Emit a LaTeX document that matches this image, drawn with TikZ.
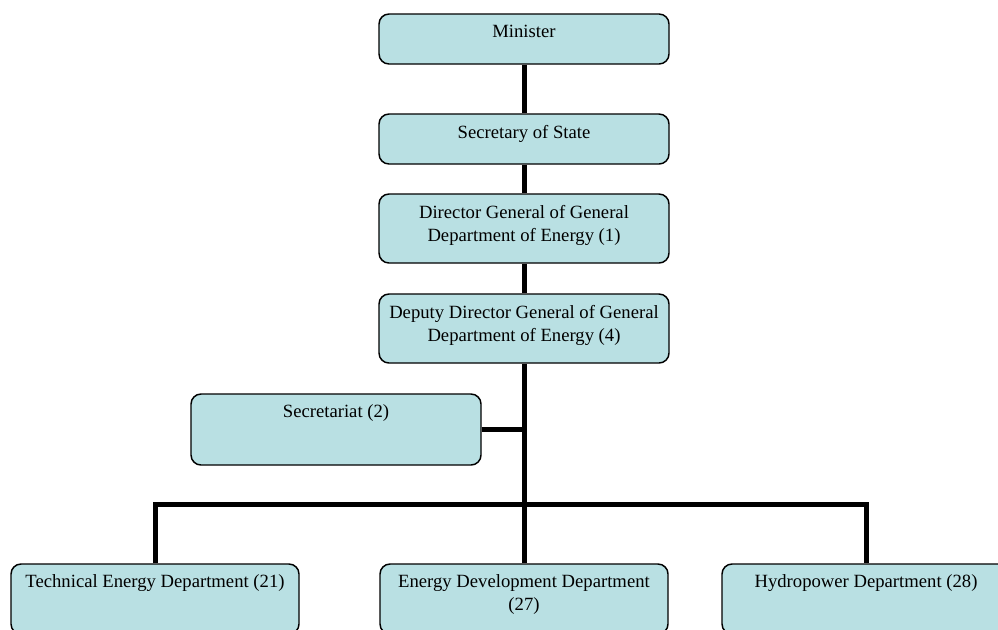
\documentclass[tikz,border=0pt]{standalone}
\usepackage{fontspec}
\setmainfont{Liberation Serif}
\begin{document}
\begin{tikzpicture}[x=0.75pt,y=-0.75pt,
  box/.style={draw=black, line width=1.1pt, fill=boxfill, rounded corners=7.5pt,
    minimum width=217.5pt, inner sep=0pt},
  lbl/.style={anchor=north, inner sep=0pt, align=center,
    font=\fontsize{14pt}{17.25pt}\selectfont},
  link/.style={line width=3.75pt, line join=miter}]
\definecolor{boxfill}{RGB}{185,224,227}
\useasboundingbox (0,0) rectangle (998,629);
\clip (0,0) rectangle (998,629);

% boxes of the chart
\node[box, minimum height=37.5pt] (min)  at (524,39)    {};
\node[box, minimum height=37.5pt] (sec)  at (524,139)   {};
\node[box, minimum height=51.75pt] (dg)  at (524,228.5) {};
\node[box, minimum height=51.75pt] (ddg) at (524,328.5) {};
\node[box, minimum height=53.25pt] (secr) at (336,429.5) {};
\node[box, minimum width=216pt, minimum height=52.5pt] (ted) at (155,599) {};
\node[box, minimum width=216pt, minimum height=52.5pt] (edd) at (524,599) {};
\node[box, minimum width=216pt, minimum height=52.5pt] (hyd) at (866,599) {};

% labels, set near the top of each box
\node[lbl] (minT)  at ([yshift=-8.5pt]min.north)  {Minister};
\node[lbl] (secT)  at ([yshift=-8.5pt]sec.north)  {Secretary of State};
\node[lbl] (dgT)   at ([yshift=-8.5pt]dg.north)   {Director General of General\\Department of Energy (1)};
\node[lbl] (ddgT)  at ([yshift=-8.5pt]ddg.north)  {Deputy Director General of General\\Department of Energy (4)};
\node[lbl] (secrT) at ([yshift=-8.5pt]secr.north) {Secretariat (2)};
\node[lbl] (tedT)  at ([yshift=-8.5pt]ted.north)  {Technical Energy Department (21)};
\node[lbl] (eddT)  at ([yshift=-8.5pt]edd.north)  {Energy Development Department\\(27)};
\node[lbl] (hydT)  at ([yshift=-8.5pt]hyd.north)  {Hydropower Department (28)};

% connectors
\coordinate (bar) at (524,504);
\draw[link] (min.south) -- (sec.north);
\draw[link] (sec.south) -- (dg.north);
\draw[link] (dg.south) -- (ddg.north);
\draw[link] (ddg.south) -- (edd.north);
\draw[link] (secr.east) -- (secr.east -| ddg.south);
\draw[link] (ted.north) -- (ted.north |- bar) -- (hyd.north |- bar) -- (hyd.north);
\end{tikzpicture}
\end{document}
